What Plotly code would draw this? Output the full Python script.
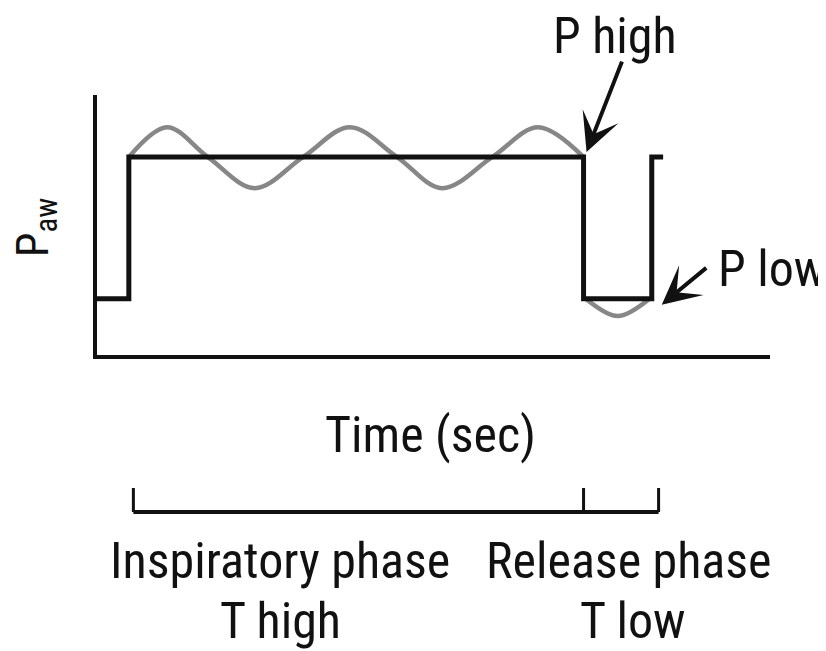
import plotly.graph_objects as go

# ---- data (time in arbitrary seconds, pressure in arbitrary units) ----
P_LOW = 4.9
P_HIGH = 17.2
T_RISE = 0.7
T_FALL = 10.7
T_END = 12.2
T_HOOK = 12.45

step_t = [0, T_RISE, T_FALL, T_END, T_HOOK]
step_p = [P_LOW, P_HIGH, P_LOW, P_HIGH, P_HIGH]

# oscillation superimposed on the pressure levels
osc_t = [0.7, 1.54, 2.44, 3.47, 4.53, 5.56, 6.6, 7.59, 8.69, 9.7, 10.7, None, 10.75, 11.45, 12.15]
osc_p = [17.2, 19.8, 17.2, 14.5, 17.2, 19.8, 17.2, 14.5, 17.2, 19.8, 17.2, None, 4.9, 3.4, 4.9]

# bracket below the chart marking the two phases
bracket_t = [0.8, 10.7, 12.35]

phase_labels = ["Inspiratory phase", "Release phase"]
phase_sub = ["T high", "T low"]

FONT = "Roboto Condensed, Liberation Sans, Arial, sans-serif"
BLACK = "#111111"
GRAY = "#878787"
OFF = 8  # default body margin of the page

fig = go.Figure()
fig.add_trace(go.Scatter(x=osc_t, y=osc_p, mode="lines",
                         line=dict(color=GRAY, width=4.5, shape="spline", smoothing=1.0),
                         connectgaps=False, hoverinfo="skip", showlegend=False))
fig.add_trace(go.Scatter(x=step_t, y=step_p, mode="lines",
                         line=dict(color=BLACK, width=5, shape="hv"),
                         hoverinfo="skip", showlegend=False))

L, R, T, B = 97 - OFF, 770 - OFF, 95 - OFF, 355 - OFF
W, H = 818, 643


def px(x):
    return (x - OFF - L) / (R - L)


def py(y):
    return (B - (y - OFF)) / (B - T)


yb_line = py(512)
yb_top = py(488)
fig.add_shape(type="line", xref="x", yref="paper", x0=bracket_t[0], x1=bracket_t[-1],
              y0=yb_line, y1=yb_line, line=dict(color=BLACK, width=4))
for bt in bracket_t:
    fig.add_shape(type="line", xref="x", yref="paper", x0=bt, x1=bt,
                  y0=yb_line, y1=yb_top, line=dict(color=BLACK, width=3))

big = dict(family=FONT, size=50, color=BLACK)


def label(text, x, y, xanchor="center", **kw):
    return dict(text=text, x=px(x), y=py(y), xref="paper", yref="paper",
                xanchor=xanchor, yanchor="middle", showarrow=False, font=big, **kw)


ann = [
    label("Time (sec)", 430.5, 435),
    label(phase_labels[0], 280, 560.5),
    label(phase_sub[0], 280, 621),
    label(phase_labels[1], 629, 560.5),
    label(phase_sub[1], 633, 621),
    label("P high", 615, 36),
    label("P low", 716, 269, xanchor="left"),
    dict(text="P<sub>aw</sub>", x=px(36), y=py(228), xref="paper", yref="paper",
         xanchor="center", yanchor="middle", textangle=-90, showarrow=False,
         font=dict(family=FONT, size=44, color=BLACK)),
    # arrows pointing at P high / P low
    dict(text="", x=T_FALL, y=P_HIGH, xref="x", yref="y", xshift=3, yshift=5,
         showarrow=True, arrowhead=3, arrowwidth=4, arrowsize=1.6, arrowcolor=BLACK,
         ax=36, ay=-92, standoff=0, startstandoff=0),
    dict(text="", x=T_END, y=P_LOW, xref="x", yref="y", xshift=10, yshift=-6,
         showarrow=True, arrowhead=3, arrowwidth=4, arrowsize=1.6, arrowcolor=BLACK,
         ax=46, ay=-38, standoff=0, startstandoff=0),
]

fig.update_layout(
    width=W, height=H,
    margin=dict(l=L, r=W - R, t=T, b=H - B, pad=0),
    paper_bgcolor="white", plot_bgcolor="white",
    annotations=ann,
    xaxis=dict(range=[0, 14.8], showline=True, linewidth=4, linecolor=BLACK,
               showgrid=False, zeroline=False, showticklabels=False, ticks=""),
    yaxis=dict(range=[0, 22.6], showline=True, linewidth=4, linecolor=BLACK,
               showgrid=False, zeroline=False, showticklabels=False, ticks=""),
)

fig.write_html("out.html")
